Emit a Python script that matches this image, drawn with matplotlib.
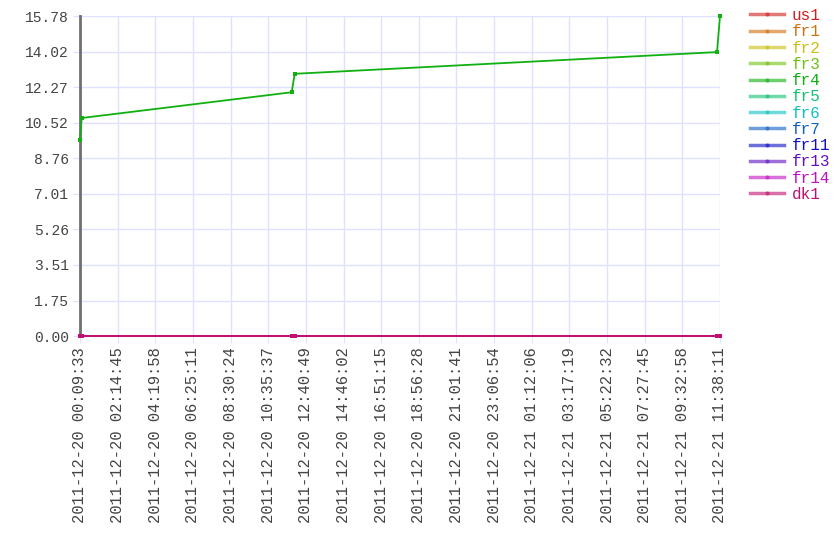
import pandas as pd
import matplotlib
matplotlib.use('Agg')
import matplotlib.pyplot as plt
from matplotlib.lines import Line2D

# ── Data ────────────────────────────────────────────────────────────────────
times = ['2011-12-20 00:09:33', '2011-12-20 00:15:13', '2011-12-20 11:53:40',
         '2011-12-20 12:03:39', '2011-12-21 11:28:13', '2011-12-21 11:38:11']

us1 = [0, 0, 0, 0, 0, 0]
fr1 = [0, 0, 0, 0, 0, 0]
fr2 = [0, 0, 0, 0, 0, 0]
fr3 = [0, 0, 0, 0, 0, 0]
fr4 = [9.66, 10.75, 12.02, 12.93, 14.00, 15.78]
fr5 = [0, 0, 0, 0, 0, 0]
fr6 = [0, 0, 0, 0, 0, 0]
fr7 = [0, 0, 0, 0, 0, 0]
fr11 = [0, 0, 0, 0, 0, 0]
fr13 = [0, 0, 0, 0, 0, 0]
fr14 = [0, 0, 0, 0, 0, 0]
dk1 = [0, 0, 0, 0, 0, 0]

names = ['us1', 'fr1', 'fr2', 'fr3', 'fr4', 'fr5', 'fr6', 'fr7',
         'fr11', 'fr13', 'fr14', 'dk1']
series = [us1, fr1, fr2, fr3, fr4, fr5, fr6, fr7, fr11, fr13, fr14, dk1]
colors = ['#d02020', '#d07010', '#c8c010', '#70c010', '#10b010', '#10c070',
          '#10c0c0', '#1060c0', '#1010c0', '#6010c0', '#c010c0', '#c01070']

y_ticks = [0.00, 1.75, 3.51, 5.26, 7.01, 8.76, 10.52, 12.27, 14.02, 15.78]
x_start = '2011-12-20 00:09:33'
x_end = '2011-12-21 11:38:11'
n_xticks = 18

# ── Figure ──────────────────────────────────────────────────────────────────
mono = 'Liberation Mono'
fig = plt.figure(figsize=(8.4, 5.6), dpi=100)
ax = fig.add_axes([80/840, 1 - 336/560, 640/840, 320/560])

t = pd.to_datetime(times)
for name, vals, c in zip(names, series, colors):
    ax.plot(t, vals, color=c, lw=1.3, marker='s', markersize=2.5,
            markeredgewidth=0, label=name, clip_on=False, zorder=3)

t0 = pd.Timestamp(x_start)
t1 = pd.Timestamp(x_end)
ax.set_xlim(t0, t1)
ax.set_ylim(0, y_ticks[-1])

xt = pd.date_range(t0, t1, periods=n_xticks)
ax.set_xticks(xt)
ax.set_xticklabels([d.strftime('%Y-%m-%d %H:%M:%S') for d in xt],
                   rotation=90, fontsize=11.2, family=mono, color='#444444')
ax.set_yticks(y_ticks)
ax.set_yticklabels([f'{v:.2f}' for v in y_ticks], fontsize=10.5,
                   family=mono, color='#444444')

ax.grid(True, color='#e0e0ff', lw=1)
ax.set_axisbelow(True)
ax.tick_params(axis='both', length=5, color='#e0e0ff', pad=3)
for s in ['top', 'right', 'bottom']:
    ax.spines[s].set_visible(False)
ax.spines['left'].set_color('#707070')
ax.spines['left'].set_linewidth(2)
ax.spines['left'].set_zorder(2)

handles = [Line2D([0], [0], color=c, lw=2.5, alpha=0.6, marker='o',
                  markersize=3, markerfacecolor=c, markeredgewidth=0)
           for c in colors]
leg = ax.legend(handles, names, loc='upper left', bbox_to_anchor=(750/840, 1 - 8/560),
                bbox_transform=fig.transFigure, frameon=False,
                prop={'family': mono, 'size': 11.5}, handlelength=2.1,
                handletextpad=0.5, labelspacing=0.08, borderpad=0,
                borderaxespad=0)
for txt, c in zip(leg.get_texts(), colors):
    txt.set_color(c)

plt.savefig('out.png', dpi=100)
